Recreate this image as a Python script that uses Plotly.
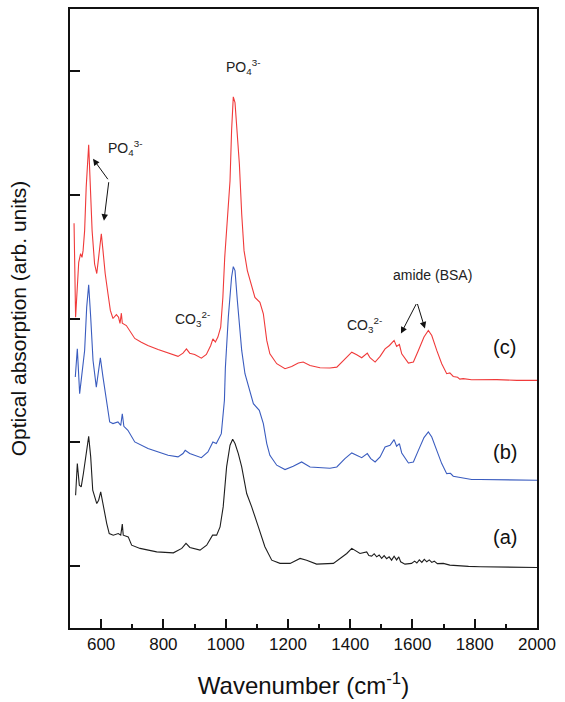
import plotly.graph_objects as go

# ---- data (wavenumber cm^-1, absorbance offset units) ----
red_points = [
    (513, 2.77), (518, 2.01), (528, 2.454), (534, 2.524), (538.5, 2.494), (542, 2.548),
    (547, 2.71), (552, 3.059), (560, 3.403), (564, 3.113), (571, 2.71), (579, 2.44),
    (586, 2.363), (592, 2.494), (600.6, 2.685), (606, 2.548), (613, 2.363), (622, 2.2),
    (629.6, 2.065), (638, 2.0), (649, 2.032), (656, 2.01), (660.6, 1.96), (665, 2.043),
    (668, 1.962), (681, 1.943), (692, 1.903), (708, 1.839), (729, 1.809), (750, 1.782),
    (783, 1.75), (815, 1.72), (847, 1.694), (863, 1.72), (874, 1.755), (884.5, 1.72),
    (900.5, 1.71), (922, 1.68), (938, 1.71), (952, 1.782), (959, 1.836), (967, 1.81),
    (975, 1.85), (984, 1.93), (991, 2.17), (997, 2.494), (1003, 2.7), (1008.5, 2.93),
    (1014, 3.113), (1019, 3.516), (1024.5, 3.79), (1030, 3.744), (1035, 3.57),
    (1044, 3.248), (1051.5, 2.844), (1059, 2.548), (1069.6, 2.387), (1083.6, 2.253),
    (1094, 2.17), (1110, 2.13), (1121, 2.038), (1132, 1.823), (1142, 1.715),
    (1164, 1.635), (1190.6, 1.594), (1212, 1.613), (1233, 1.64), (1249, 1.648),
    (1271, 1.621), (1303, 1.602), (1335, 1.6), (1357, 1.607), (1383, 1.675),
    (1405, 1.728), (1421, 1.707), (1437, 1.683), (1455, 1.72), (1463.6, 1.683),
    (1480, 1.648), (1496, 1.694), (1512, 1.755), (1526, 1.782), (1541, 1.823),
    (1549, 1.774), (1558, 1.79), (1565.5, 1.715), (1587, 1.64), (1603, 1.648),
    (1619, 1.742), (1637, 1.85), (1651, 1.903), (1662, 1.863), (1678, 1.742),
    (1694, 1.635), (1710, 1.554), (1720, 1.56), (1731, 1.532), (1745, 1.525),
    (1752, 1.51), (1763, 1.514), (1790, 1.505), (1817, 1.506), (1871, 1.506),
    (1935, 1.5), (1994, 1.5), (2000, 1.5),
]

blue_points = [
    (517, 1.527), (523.5, 1.755), (531, 1.393), (538.5, 1.554), (547, 1.742),
    (553.6, 2.091), (560, 2.272), (566.5, 2.01), (574, 1.661), (584.5, 1.446),
    (592, 1.58), (597.5, 1.683), (606, 1.527), (616.6, 1.339), (627.5, 1.164),
    (638, 1.151), (654, 1.164), (663, 1.137), (668, 1.231), (673, 1.129), (686, 1.097),
    (708, 1.003), (750.5, 0.949), (815, 0.895), (847, 0.882), (863, 0.909), (870, 0.935),
    (884.5, 0.909), (922, 0.876), (943, 0.922), (959, 1.003), (970, 0.99), (986, 1.07),
    (996, 1.34), (999, 1.6), (1008.5, 2.01), (1019, 2.333), (1024.5, 2.419),
    (1030, 2.387), (1037.5, 2.145), (1051.5, 1.742), (1062, 1.554), (1073, 1.446),
    (1089, 1.312), (1108, 1.258), (1121, 1.151), (1132, 0.99), (1142, 0.895),
    (1164, 0.815), (1190.6, 0.78), (1217, 0.806), (1244, 0.841), (1271, 0.801),
    (1303, 0.796), (1335, 0.79), (1357, 0.801), (1383, 0.868), (1405, 0.914),
    (1421, 0.895), (1437, 0.876), (1455, 0.909), (1466, 0.868), (1480, 0.841),
    (1496, 0.882), (1512, 0.962), (1528, 0.976), (1541, 1.022), (1549, 0.968),
    (1558, 0.99), (1565.5, 0.914), (1587, 0.833), (1603, 0.841), (1619, 0.935),
    (1637, 1.038), (1651, 1.083), (1662, 1.043), (1678, 0.935), (1694, 0.828),
    (1710, 0.747), (1722, 0.75), (1731, 0.726), (1748, 0.718), (1763, 0.707),
    (1790, 0.70), (1817, 0.699), (1900, 0.696), (2000, 0.694),
]

black_points = [
    (518, 0.573), (523.5, 0.828), (530, 0.653), (536, 0.64), (543, 0.748), (551, 0.882),
    (560, 1.048), (566.5, 0.882), (573, 0.613), (586, 0.505), (592, 0.532),
    (598.6, 0.599), (607, 0.478), (618, 0.344), (626, 0.263), (639, 0.25), (655, 0.263),
    (663, 0.25), (668, 0.339), (671, 0.25), (687, 0.236), (698, 0.169), (725, 0.143),
    (778.5, 0.115), (832, 0.107), (859, 0.143), (872.6, 0.183), (885, 0.151),
    (917.6, 0.129), (939, 0.169), (958, 0.25), (971, 0.25), (982, 0.317), (992, 0.478),
    (1003, 0.801), (1014, 0.976), (1022.5, 1.024), (1030, 0.99), (1040.6, 0.909),
    (1051.5, 0.801), (1067.5, 0.586), (1083.6, 0.478), (1105, 0.317), (1126, 0.156),
    (1148, 0.048), (1174.5, 0.022), (1207, 0.022), (1239, 0.062), (1260, 0.048),
    (1292, 0.016), (1346, 0.022), (1389, 0.102), (1405, 0.143), (1431.5, 0.102),
    (1453, 0.115), (1460, 0.085), (1469, 0.081), (1477, 0.1), (1485, 0.075),
    (1493, 0.09), (1501, 0.062), (1509, 0.085), (1517, 0.06), (1525, 0.075),
    (1533, 0.048), (1541, 0.08), (1549, 0.05), (1556, 0.075), (1562, 0.035),
    (1576, 0.016), (1597, 0.022), (1607, 0.04), (1614, 0.025), (1622, 0.05),
    (1630, 0.03), (1638, 0.055), (1646, 0.035), (1654, 0.05), (1662, 0.03),
    (1670, 0.04), (1680, 0.02), (1699, 0.022), (1720, 0.008), (1742, 0.003),
    (1780, -0.002), (1817, -0.005), (1900, -0.008), (2000, -0.011),
]

series_names = ["(a)", "(b)", "(c)"]
series_colors = ["#1e1e1e", "#3a5cbf", "#f03a3a"]
x_tick_values = [600, 800, 1000, 1200, 1400, 1600, 1800, 2000]
y_tick_values = [0, 1, 2, 3, 4]

FONT = "Liberation Sans, Arial, sans-serif"

fig = go.Figure()
for name, pts, col in zip(series_names, [black_points, blue_points, red_points], series_colors):
    fig.add_trace(go.Scatter(
        x=[p[0] for p in pts], y=[p[1] for p in pts], mode="lines", name=name,
        line=dict(color=col, width=1.1), showlegend=False,
    ))

annotations = []
# curve labels
for name, yv in zip(series_names, [0.234, 0.919, 1.766]):
    annotations.append(dict(x=1897, y=yv, text=name, showarrow=False,
                            font=dict(size=20, color="#111", family=FONT)))
# band labels
band_labels = [
    (1056, 4.03, "PO<sub>4</sub><sup>3-</sup>"),
    (677, 3.38, "PO<sub>4</sub><sup>3-</sup>"),
    (892, 2.0, "CO<sub>3</sub><sup>2-</sup>"),
    (1447, 1.95, "CO<sub>3</sub><sup>2-</sup>"),
    (1663, 2.35, "amide (BSA)"),
]
for xv, yv, t in band_labels:
    annotations.append(dict(x=xv, y=yv, text=t, showarrow=False,
                            font=dict(size=14, color="#222", family=FONT)))
# arrows (tail -> head)
arrows = [
    ((625, 3.113), (574, 3.29)),
    ((625, 3.113), (609, 2.79)),
    ((1614.6, 2.129), (1563, 1.879)),
    ((1614.6, 2.129), (1640, 1.919)),
]
for (tx, ty), (hx, hy) in arrows:
    annotations.append(dict(x=hx, y=hy, ax=tx, ay=ty, axref="x", ayref="y",
                            xref="x", yref="y", text="", showarrow=True,
                            arrowhead=2, arrowsize=1.3, arrowwidth=1, arrowcolor="#111"))

fig.update_layout(
    width=565, height=702,
    margin=dict(l=70, r=28, t=7, b=73),
    paper_bgcolor="white", plot_bgcolor="white",
    font=dict(family=FONT, color="#111"),
    annotations=annotations,
    xaxis=dict(
        range=[500, 2000], tickvals=x_tick_values, ticks="inside", ticklen=9,
        tickwidth=1.5, tickcolor="#111", showline=True, linewidth=2, linecolor="#111",
        mirror=True, showgrid=False, zeroline=False,
        tickfont=dict(size=17, family=FONT, color="#111"),
        minor=dict(ticks="inside", ticklen=4, tickwidth=1.5, tickcolor="#111",
                   tickvals=[700, 900, 1100, 1300, 1500, 1700, 1900], showgrid=False),
        title=dict(text="Wavenumber (cm<sup>-1</sup>)", font=dict(size=24, family=FONT, color="#111"),
                   standoff=24),
    ),
    yaxis=dict(
        range=[-0.5, 4.5], tickvals=y_tick_values, ticks="inside", ticklen=10,
        tickwidth=1.5, tickcolor="#111", showticklabels=False, showline=True,
        linewidth=2, linecolor="#111", mirror=True, showgrid=False, zeroline=False,
        title=dict(text="Optical absorption (arb. units)", font=dict(size=21, family=FONT, color="#111"),
                   standoff=36),
    ),
)

fig.write_html("out.html")
